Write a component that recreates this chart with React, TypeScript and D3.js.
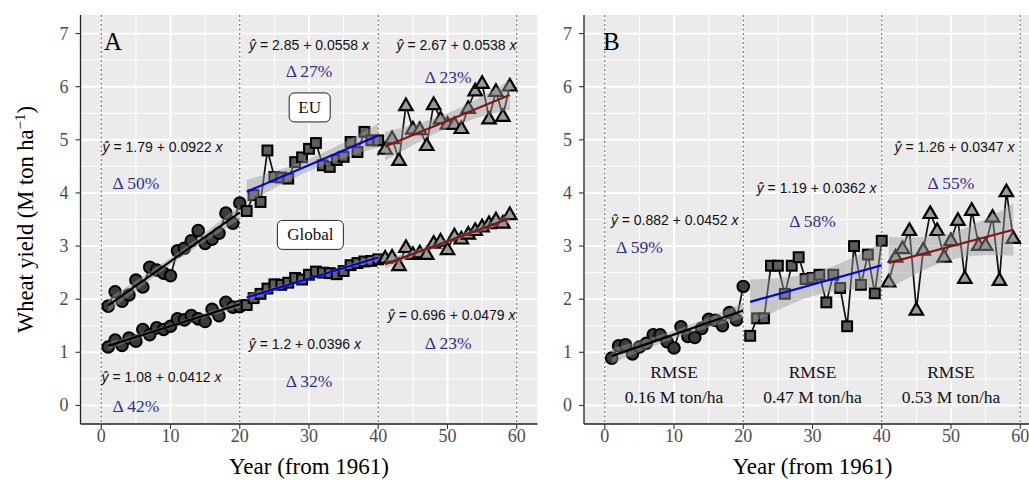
import React from "react";
import * as d3 from "d3";

const WIDTH = 1029;
const HEIGHT = 481;

// Years since 1961, split into the three 20-year periods
const yearsP1 = [1, 2, 3, 4, 5, 6, 7, 8, 9, 10, 11, 12, 13, 14, 15, 16, 17, 18, 19, 20];
const yearsP2 = [21, 22, 23, 24, 25, 26, 27, 28, 29, 30, 31, 32, 33, 34, 35, 36, 37, 38, 39, 40];
const yearsP3 = [41, 42, 43, 44, 45, 46, 47, 48, 49, 50, 51, 52, 53, 54, 55, 56, 57, 58, 59];

// Panel A – EU wheat yield (M ton/ha)
const euP1 = [1.87, 2.14, 1.96, 2.08, 2.36, 2.23, 2.6, 2.55, 2.49, 2.44, 2.91, 2.96, 3.1, 3.29, 3.05, 3.13, 3.24, 3.62, 3.43, 3.81];
const euP2 = [3.66, 3.96, 3.83, 4.8, 4.3, 4.29, 4.27, 4.58, 4.67, 4.83, 4.94, 4.52, 4.49, 4.62, 4.68, 4.96, 4.77, 5.15, 4.99, 4.99];
const euP3 = [4.83, 5.03, 4.62, 5.65, 5.21, 5.2, 4.9, 5.67, 5.4, 5.3, 5.3, 5.22, 5.6, 5.93, 6.07, 5.4, 5.92, 5.45, 6.02];

// Panel A – global wheat yield
const globalP1 = [1.1, 1.23, 1.13, 1.27, 1.21, 1.43, 1.33, 1.46, 1.43, 1.49, 1.63, 1.61, 1.69, 1.63, 1.58, 1.81, 1.69, 1.94, 1.85, 1.86];
const globalP2 = [1.89, 2.02, 2.1, 2.2, 2.28, 2.27, 2.31, 2.4, 2.37, 2.46, 2.52, 2.5, 2.49, 2.47, 2.53, 2.64, 2.68, 2.71, 2.72, 2.75];
const globalP3 = [2.78, 2.8, 2.64, 2.98, 2.85, 2.88, 2.85, 3.06, 3.1, 2.94, 3.2, 3.14, 3.23, 3.3, 3.37, 3.43, 3.5, 3.44, 3.6];

// Panel B – yield series
const bP1 = [0.89, 1.12, 1.14, 0.97, 1.1, 1.17, 1.33, 1.33, 1.2, 1.08, 1.48, 1.3, 1.28, 1.45, 1.62, 1.6, 1.5, 1.75, 1.61, 2.24];
const bP2 = [1.31, 1.64, 1.64, 2.63, 2.63, 2.1, 2.63, 2.79, 2.38, 2.4, 2.46, 1.94, 2.46, 2.21, 1.49, 3.0, 2.27, 2.84, 2.11, 3.1];
const bP3 = [2.33, 2.8, 2.96, 3.3, 1.8, 2.93, 3.62, 3.3, 2.8, 3.11, 3.49, 2.4, 3.68, 3.02, 3.02, 3.55, 2.36, 4.03, 3.15];

// Linear fits per period: [intercept, slope]
const euFits = [[1.79, 0.0922], [2.85, 0.0558], [2.67, 0.0538]];
const globalFits = [[1.08, 0.0412], [1.2, 0.0396], [0.696, 0.0479]];
const bFits = [[0.882, 0.0452], [1.19, 0.0362], [1.26, 0.0347]];

// Relative change per period
const euChange = ["Δ 50%", "Δ 27%", "Δ 23%"];
const globalChange = ["Δ 42%", "Δ 32%", "Δ 23%"];
const bChange = ["Δ 59%", "Δ 58%", "Δ 55%"];
const bRmse = ["0.16 M ton/ha", "0.47 M ton/ha", "0.53 M ton/ha"];

const xTicks = [0, 10, 20, 30, 40, 50, 60];
const yTicks = [0, 1, 2, 3, 4, 5, 6, 7];
const periodBounds = [0, 20, 40, 60];

const SERIF = "'Liberation Serif', 'Times New Roman', serif";
const SANS = "'Liberation Sans', Arial, sans-serif";

const PANEL_TOP = 15;
const PANEL_BOTTOM = 424;
const PANEL_W = 457;
const T_QUANT = 2.1;

const lineColors = ["#000000", "#0000ee", "#8b1212"];
const deltaColor = "#2f2f8f";

type Seg = { years: number[]; values: number[]; fit: number[]; shape: number };

function bandPath(seg: Seg, x: any, y: any) {
  const { years, values, fit } = seg;
  const [a, b] = fit;
  const n = years.length;
  const xbar = d3.mean(years) as number;
  const sxx = d3.sum(years, (t) => (t - xbar) ** 2);
  const s = Math.sqrt(d3.sum(years, (t, i) => (values[i] - (a + b * t)) ** 2) / (n - 2));
  const t0 = years[0];
  const t1 = years[n - 1];
  const grid = d3.range(0, 41).map((k) => t0 + ((t1 - t0) * k) / 40);
  const half = (t: number) => T_QUANT * s * Math.sqrt(1 / n + (t - xbar) ** 2 / sxx);
  return d3
    .area<number>()
    .x((t) => x(t))
    .y0((t) => y(a + b * t - half(t)))
    .y1((t) => y(a + b * t + half(t)))(grid) as string;
}

const triangle = d3.symbol(d3.symbolTriangle, 78)() as string;

function Marker({ shape, cx, cy }: { shape: number; cx: number; cy: number }) {
  if (shape === 0) {
    return <circle cx={cx} cy={cy} r={5.8} fill="#3b3b3b" stroke="#000" strokeWidth={2} />;
  }
  if (shape === 1) {
    return <rect x={cx - 4.9} y={cy - 4.9} width={9.8} height={9.8} fill="#5e5e5e" stroke="#000" strokeWidth={2.1} />;
  }
  return <path d={triangle} transform={`translate(${cx},${cy + 1})`} fill="#9a9a9a" stroke="#000" strokeWidth={2.2} strokeLinejoin="miter" />;
}

function Equation({ x, y, fit }: { x: number; y: number; fit: number[] }) {
  return (
    <text x={x} y={y} textAnchor="middle" dominantBaseline="central" fontFamily={SANS} fontSize={14} fill="#111">
      <tspan fontStyle="italic">ŷ</tspan>
      {` = ${fit[0]} + ${fit[1]} `}
      <tspan fontStyle="italic">x</tspan>
    </text>
  );
}

type PanelProps = {
  id: string;
  left: number;
  tag: string;
  tagX: number;
  groups: Seg[][];
  render: (x: any, y: any) => React.ReactNode;
};

function Panel({ id, left, tag, tagX, groups, render }: PanelProps) {
  const x = d3.scaleLinear().domain([-3, 63]).range([left, left + PANEL_W]);
  const y = d3.scaleLinear().domain([-0.35, 7.35]).range([PANEL_BOTTOM, PANEL_TOP]);
  const minorX = xTicks.slice(1).map((v, i) => (v + xTicks[i]) / 2);
  const minorY = yTicks.slice(1).map((v, i) => (v + yTicks[i]) / 2);
  const line = d3
    .line<[number, number]>()
    .x((d) => x(d[0]))
    .y((d) => y(d[1]));
  const segs = groups.flat();
  return (
    <g>
      <defs>
        <clipPath id={`clip-${id}`}>
          <rect x={left} y={PANEL_TOP} width={PANEL_W} height={PANEL_BOTTOM - PANEL_TOP} />
        </clipPath>
      </defs>
      <rect x={left} y={PANEL_TOP} width={PANEL_W} height={PANEL_BOTTOM - PANEL_TOP} fill="#ebebeb" />
      <g clipPath={`url(#clip-${id})`}>
        {minorX.map((v) => (
          <line key={`mx${v}`} x1={x(v)} x2={x(v)} y1={PANEL_TOP} y2={PANEL_BOTTOM} stroke="#fff" strokeWidth={0.9} />
        ))}
        {minorY.map((v) => (
          <line key={`my${v}`} x1={left} x2={left + PANEL_W} y1={y(v)} y2={y(v)} stroke="#fff" strokeWidth={0.9} />
        ))}
        {xTicks.map((v) => (
          <line key={`gx${v}`} x1={x(v)} x2={x(v)} y1={PANEL_TOP} y2={PANEL_BOTTOM} stroke="#fff" strokeWidth={1.9} />
        ))}
        {yTicks.map((v) => (
          <line key={`gy${v}`} x1={left} x2={left + PANEL_W} y1={y(v)} y2={y(v)} stroke="#fff" strokeWidth={1.9} />
        ))}
        {periodBounds.map((v) => (
          <line key={`pb${v}`} x1={x(v)} x2={x(v)} y1={PANEL_TOP} y2={PANEL_BOTTOM} stroke="#5a5a5a" strokeWidth={1} strokeDasharray="2,2.5" />
        ))}
        {segs.map((s, i) => (
          <path
            key={`ln${i}`}
            d={line(s.years.map((t, k) => [t, s.values[k]])) as string}
            fill="none"
            stroke="#111"
            strokeWidth={1.7}
          />
        ))}
        {segs.map((s, i) => (
          <g key={`pt${i}`}>
            {s.years.map((t, k) => (
              <Marker key={k} shape={s.shape} cx={x(t)} cy={y(s.values[k])} />
            ))}
          </g>
        ))}
        {segs.map((s, i) => (
          <path key={`bd${i}`} d={bandPath(s, x, y)} fill="#999999" fillOpacity={0.45} stroke="none" />
        ))}
        {segs.map((s, i) => {
          const t0 = s.years[0];
          const t1 = s.years[s.years.length - 1];
          return (
            <line
              key={`rg${i}`}
              x1={x(t0)}
              x2={x(t1)}
              y1={y(s.fit[0] + s.fit[1] * t0)}
              y2={y(s.fit[0] + s.fit[1] * t1)}
              stroke={lineColors[s.shape]}
              strokeWidth={2.2}
            />
          );
        })}
        {render(x, y)}
        <text x={x(tagX)} y={50} fontFamily={SERIF} fontSize={25} fill="#000">
          {tag}
        </text>
      </g>
      <line x1={left} x2={left} y1={PANEL_TOP} y2={PANEL_BOTTOM} stroke="#222" strokeWidth={1.3} />
      <line x1={left} x2={left + PANEL_W} y1={PANEL_BOTTOM} y2={PANEL_BOTTOM} stroke="#222" strokeWidth={1.3} />
      {yTicks.map((v) => (
        <g key={`yt${v}`}>
          <line x1={left - 5} x2={left} y1={y(v)} y2={y(v)} stroke="#333" strokeWidth={1.1} />
          <text x={left - 12} y={y(v)} textAnchor="end" dominantBaseline="central" fontFamily={SERIF} fontSize={18} fill="#4d4d4d">
            {v}
          </text>
        </g>
      ))}
      {xTicks.map((v) => (
        <g key={`xt${v}`}>
          <line x1={x(v)} x2={x(v)} y1={PANEL_BOTTOM} y2={PANEL_BOTTOM + 5} stroke="#333" strokeWidth={1.1} />
          <text x={x(v)} y={PANEL_BOTTOM + 18} textAnchor="middle" fontFamily={SERIF} fontSize={18} fill="#4d4d4d">
            {v}
          </text>
        </g>
      ))}
      <text x={left + PANEL_W / 2} y={474} textAnchor="middle" fontFamily={SERIF} fontSize={23} fill="#000">
        Year (from 1961)
      </text>
    </g>
  );
}

function LabelBox({ cx, cy, w, text }: { cx: number; cy: number; w: number; text: string }) {
  const h = 29;
  return (
    <g>
      <rect x={cx - w / 2} y={cy - h / 2} width={w} height={h} rx={5} fill="#fff" stroke="#222" strokeWidth={1} />
      <text x={cx} y={cy} textAnchor="middle" dominantBaseline="central" fontFamily={SERIF} fontSize={17} fill="#111">
        {text}
      </text>
    </g>
  );
}

function Delta({ x, y, text }: { x: number; y: number; text: string }) {
  return (
    <text x={x} y={y} textAnchor="middle" dominantBaseline="central" fontFamily={SERIF} fontSize={17.5} fill={deltaColor}>
      {text}
    </text>
  );
}

export default function App() {
  const years = [yearsP1, yearsP2, yearsP3];
  const mk = (vals: number[][], fits: number[][]): Seg[] =>
    vals.map((v, i) => ({ years: years[i], values: v, fit: fits[i], shape: i }));

  const euSegs = mk([euP1, euP2, euP3], euFits);
  const globalSegs = mk([globalP1, globalP2, globalP3], globalFits);
  const bSegs = mk([bP1, bP2, bP3], bFits);

  const euEqPos = [[8.85, 4.87], [30, 6.78], [51.3, 6.78]];
  const euDeltaPos = [[5, 4.18], [30, 6.3], [50.1, 6.18]];
  const glEqPos = [[8.7, 0.54], [29.4, 1.16], [50.6, 1.71]];
  const glDeltaPos = [[5, -0.02], [30, 0.46], [50.1, 1.18]];
  const bEqPos = [[10.1, 3.49], [30.6, 4.1], [50.5, 4.86]];
  const bDeltaPos = [[5, 2.98], [30, 3.47], [50, 4.18]];
  const rmseX = [10, 30, 50];

  return (
    <div style={{ position: "absolute", left: 0, top: 0 }}>
      <svg width={WIDTH} height={HEIGHT} style={{ display: "block", background: "#fff" }}>
        <Panel
          id="a"
          left={80.5}
          tag="A"
          tagX={0.4}
          groups={[euSegs, globalSegs]}
          render={(x, y) => (
            <g>
              {euFits.map((f, i) => (
                <Equation key={`ee${i}`} x={x(euEqPos[i][0])} y={y(euEqPos[i][1])} fit={f} />
              ))}
              {euChange.map((t, i) => (
                <Delta key={`ed${i}`} x={x(euDeltaPos[i][0])} y={y(euDeltaPos[i][1])} text={t} />
              ))}
              {globalFits.map((f, i) => (
                <Equation key={`ge${i}`} x={x(glEqPos[i][0])} y={y(glEqPos[i][1])} fit={f} />
              ))}
              {globalChange.map((t, i) => (
                <Delta key={`gd${i}`} x={x(glDeltaPos[i][0])} y={y(glDeltaPos[i][1])} text={t} />
              ))}
              <LabelBox cx={x(30.1)} cy={y(5.61)} w={41} text="EU" />
              <LabelBox cx={x(30.2)} cy={y(3.21)} w={66} text="Global" />
            </g>
          )}
        />
        <Panel
          id="b"
          left={584}
          tag="B"
          tagX={-0.25}
          groups={[bSegs]}
          render={(x, y) => (
            <g>
              {bFits.map((f, i) => (
                <Equation key={`be${i}`} x={x(bEqPos[i][0])} y={y(bEqPos[i][1])} fit={f} />
              ))}
              {bChange.map((t, i) => (
                <Delta key={`bd${i}`} x={x(bDeltaPos[i][0])} y={y(bDeltaPos[i][1])} text={t} />
              ))}
              {bRmse.map((t, i) => (
                <g key={`rm${i}`}>
                  <text x={x(rmseX[i])} y={y(0.62)} textAnchor="middle" dominantBaseline="central" fontFamily={SERIF} fontSize={17.5} fill="#111">
                    RMSE
                  </text>
                  <text x={x(rmseX[i])} y={y(0.15)} textAnchor="middle" dominantBaseline="central" fontFamily={SERIF} fontSize={17.5} fill="#111">
                    {t}
                  </text>
                </g>
              ))}
            </g>
          )}
        />
        <text
          transform={`translate(33, ${(PANEL_TOP + PANEL_BOTTOM) / 2}) rotate(-90)`}
          textAnchor="middle"
          fontFamily={SERIF}
          fontSize={22.5}
          fill="#000"
        >
          Wheat yield (M ton ha
          <tspan dy={-8} fontSize={15}>
            −1
          </tspan>
          <tspan dy={8}>)</tspan>
        </text>
      </svg>
    </div>
  );
}
